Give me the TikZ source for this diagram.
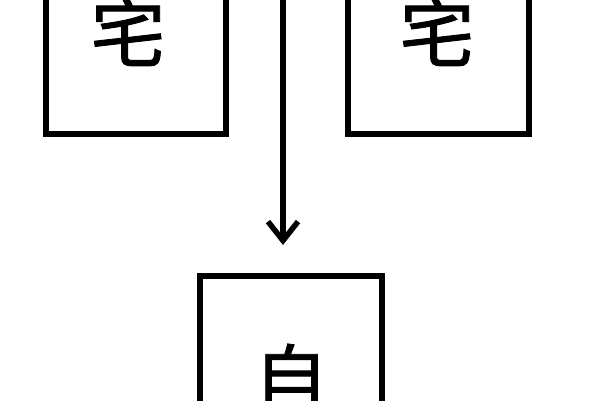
\documentclass[tikz,border=0pt]{standalone}
\usepackage{fontspec}
\newfontfamily\cjk[FakeBold=1.2]{Noto Sans CJK SC}
\usetikzlibrary{arrows.meta}
\begin{document}
\begin{tikzpicture}[x=1pt,y=-1pt,
  box/.style={draw=black,line width=5.5pt,fill=none,inner sep=0pt},
  lab/.style={font=\cjk\fontsize{75}{75}\selectfont,inner sep=0pt,anchor=base},
  conn/.style={line width=6pt,-{Straight Barb[length=19pt,width=30pt,line width=5.5pt]}}]
\useasboundingbox (0,0) rectangle (600,400);
\fill[white] (0,0) rectangle (600,400);
\draw[box] (46,-20) rectangle (226,134);
\draw[box] (348,-20) rectangle (529,134);
\draw[box] (200,276) rectangle (382,440);
\node[lab] (l1) at (128,61) {宅};
\node[lab] (l2) at (437,61) {宅};
\node[lab] (l3) at (291,407) {自};
\coordinate (top) at (283,-20);
\coordinate (tip) at (283,245);
\draw[conn] (top) -- (tip);
\end{tikzpicture}
\end{document}
